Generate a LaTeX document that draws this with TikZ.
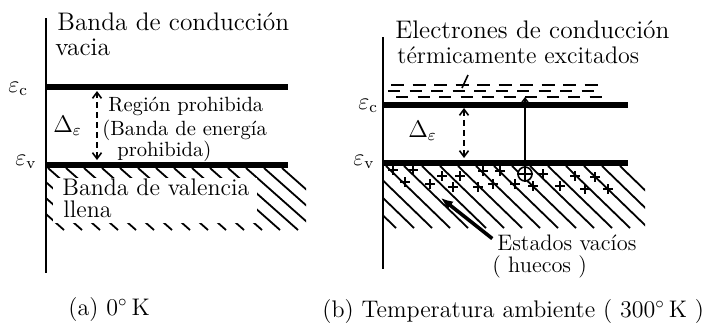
\documentclass[tikz,border=0pt]{standalone}
\usetikzlibrary{arrows.meta}
\begin{document}
\begin{tikzpicture}[
  x=0.5pt, y=-0.5pt,
  font=\fontsize{12}{14}\selectfont,
  lbl/.style={anchor=base west, inner sep=0pt},
  big/.style={font=\fontsize{12.7}{14}\selectfont},
  note/.style={font=\fontsize{10.3}{12}\selectfont},
  mid/.style={font=\fontsize{11.2}{13}\selectfont},
  axisline/.style={line width=1pt},
  level/.style={line width=2.6pt},
  gaparrow/.style={dashed, line width=0.8pt, dash pattern=on 3pt off 2pt,
                   {Straight Barb[length=3pt,width=4.5pt]}-{Straight Barb[length=3pt,width=4.5pt]}},
  hatchline/.style={line width=0.9pt},
  elec/.style={line width=1.2pt},
  plusmark/.style={line width=1pt},
  holearrow/.style={line width=1.8pt, -{Latex[length=6pt,width=5pt]}, shorten <=3pt}
]
  \useasboundingbox (0,0) rectangle (712,327);

  % (a) 0 K
  \draw[axisline] (46,18) -- (46,273);
  \draw[level] (46,87) -- (288,87);
  \draw[level] (46,165) -- (288,165);
  \begin{scope}
    \clip (47,168) rectangle (306,230);
    \foreach \x in {-60,-42,...,288}
      \draw[hatchline] (\x,168) -- ++(70,62);
  \end{scope}
  \fill[white] (53,178) rectangle (257,223);

  \node[lbl, big] (condA) at (57,30) {Banda de conducción};
  \node[lbl, big] (vacA)  at (55,55) {vacia};
  \node[lbl] (ecA)   at (8,92)  {$\varepsilon_{\mathrm{c}}$};
  \node[lbl] (evA)   at (15,165) {$\varepsilon_{\mathrm{v}}$};
  \node[lbl] (deA)   at (53,132) {$\Delta_{\varepsilon}$};
  \node[lbl, note] (regA)  at (108,111) {Región prohibida};
  \node[lbl, note] (banA)  at (102,135) {(Banda de energía};
  \node[lbl, note] (proA)  at (117,156) {prohibida)};
  \node[lbl] (valA)  at (62,195) {Banda de valencia};
  \node[lbl] (llA)   at (63,217) {llena};
  \node[lbl] (capA)  at (68,315) {(a) 0$^{\circ}$\,K};

  \coordinate (topA) at (97,91);
  \coordinate (botA) at (97,160);
  \draw[gaparrow] (botA) -- (topA);

  % (b) temperatura ambiente
  \draw[axisline] (383,37) -- (383,269);
  \draw[level] (383,105) -- (628,105);
  \draw[level] (383,163) -- (628,163);
  \begin{scope}
    \clip (384,166) rectangle (645,232);
    \foreach \x in {314,332,...,628}
      \draw[hatchline] (\x,166) -- ++(64,62);
  \end{scope}

  % electrones excitados
  \foreach \x in {391,412.5,...,600}
    \draw[elec] (\x,85) -- ++(13,0);
  \foreach \x in {388,409.5,...,600}
    \draw[elec] (\x,91) -- ++(12,0);
  \foreach \x in {396,417.5,...,605}
    \draw[elec] (\x,97) -- ++(12,0);

  % huecos
  \foreach \x/\y in {393/170, 413/170, 405/182, 442/176, 460/176, 430/184,
                     453/187, 483/171, 500/171, 478/187, 493/184, 543/174,
                     515/184, 533/186, 560/186, 575/176, 595/177, 585/189, 608/189}
    \draw[plusmark] (\x-5,\y) -- (\x+5,\y) (\x,\y-5) -- (\x,\y+5);
  \node[draw, circle, line width=0.8pt, fill=white, minimum size=7pt, inner sep=0pt] (hole) at (525,174) {};
  \draw[plusmark] (hole.west) -- (hole.east) (hole.north) -- (hole.south);

  \node[lbl, big] (elB)   at (395,38) {Electrones de conducción};
  \node[lbl] (excB)  at (397,63) {térmicamente excitados};
  \node[lbl] (ecB)   at (358,109) {$\varepsilon_{\mathrm{c}}$};
  \node[lbl] (evB)   at (353,165) {$\varepsilon_{\mathrm{v}}$};
  \node[lbl] (deB)   at (408,137) {$\Delta_{\varepsilon}$};
  \node[lbl, mid] (estB)  at (497,250) {Estados vacíos};
  \node[lbl, mid] (hueB)  at (492,272) {( huecos )};
  \node[lbl] (capB)  at (322,317) {(b) Temperatura ambiente ( 300$^{\circ}$\,K )};

  \coordinate (topB) at (464,108);
  \coordinate (botB) at (464,158);
  \draw[gaparrow] (botB) -- (topB);

  \coordinate (excTop) at (525,97);
  \draw[line width=0.8pt, -{Straight Barb[length=2pt,width=3pt]}] (hole.north) -- (excTop);

  \coordinate (slashA) at (468,75);
  \coordinate (slashB) at (462,88);
  \draw[line width=0.8pt] (slashA) -- (slashB);

  \coordinate (ptrB) at (441,198);
  \draw[holearrow] (estB.west) -- (ptrB);
\end{tikzpicture}
\end{document}
